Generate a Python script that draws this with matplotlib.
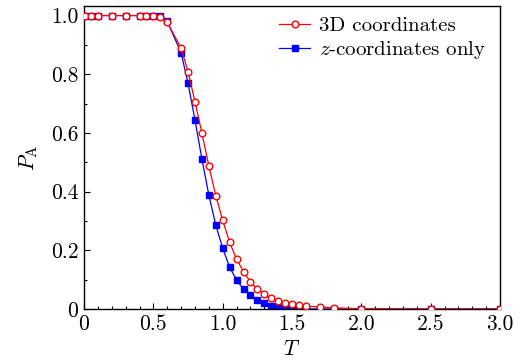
import matplotlib
matplotlib.use("Agg")
import matplotlib.pyplot as plt
from matplotlib.ticker import MultipleLocator, FuncFormatter

plt.rcParams['font.family'] = 'cmr10'
plt.rcParams['mathtext.fontset'] = 'cm'
plt.rcParams['axes.formatter.use_mathtext'] = True
plt.rcParams['font.size'] = 15.5

# temperature points
T = [0.01, 0.05, 0.1, 0.2, 0.3, 0.4, 0.45, 0.5, 0.55, 0.6, 0.7, 0.75, 0.8, 0.85,
     0.9, 0.95, 1.0, 1.05, 1.1, 1.15, 1.2, 1.25, 1.3, 1.35, 1.4, 1.45, 1.5, 1.55,
     1.6, 1.7, 1.8, 2.0, 2.5, 3.0]

# 3D coordinates
p_3d = [1.0, 1.0, 1.0, 1.0, 1.0, 1.0, 1.0, 1.0, 0.994, 0.977, 0.888, 0.809, 0.706, 0.599,
        0.488, 0.386, 0.302, 0.227, 0.170, 0.127, 0.093, 0.068, 0.051, 0.036, 0.027, 0.021, 0.016, 0.013,
        0.010, 0.007, 0.004, 0.001, 0.0, 0.0]

# z-coordinates only
p_z = [1.0, 1.0, 1.0, 1.0, 1.0, 1.0, 1.0, 1.0, 0.998, 0.980, 0.873, 0.769, 0.644, 0.511,
       0.388, 0.286, 0.207, 0.142, 0.099, 0.067, 0.047, 0.031, 0.019, 0.011, 0.007, 0.004, 0.002, 0.001,
       0.0005, 0.0, 0.0, 0.0, 0.0, 0.0]

fig = plt.figure(figsize=(5.22, 3.61), dpi=100)
ax = fig.add_axes([0.161, 0.144, 0.797, 0.839])

ax.plot(T, p_z, color='#0000ff', marker='s', markersize=4.5, linewidth=0.9,
        markeredgecolor='#0000ff', label='$z$-coordinates only', zorder=2)
ax.plot(T, p_3d, color='#ff0000', marker='o', markersize=4.8, linewidth=0.9,
        markerfacecolor='white', markeredgecolor='#ff0000', markeredgewidth=1.0,
        label='3D coordinates', zorder=3)

ax.set_xlim(0, 3.0)
ax.set_ylim(0, 1.032)
ax.xaxis.set_major_locator(MultipleLocator(0.5))
ax.xaxis.set_minor_locator(MultipleLocator(0.1))
ax.yaxis.set_major_locator(MultipleLocator(0.2))
ax.yaxis.set_minor_locator(MultipleLocator(0.1))
fmt = FuncFormatter(lambda v, pos: '0' if abs(v) < 1e-9 else '%.1f' % v)
ax.xaxis.set_major_formatter(fmt)
ax.yaxis.set_major_formatter(fmt)
ax.tick_params(which='both', direction='in', top=False, right=False, pad=4)
ax.tick_params(which='major', length=4, width=0.8)
ax.tick_params(which='minor', length=2.5, width=0.8)
for s in ax.spines.values():
    s.set_linewidth(1.0)

ax.set_xlabel('$T$', labelpad=4)
ax.set_ylabel(r'$P_{\mathrm{A}}$', labelpad=8)

handles, labels = ax.get_legend_handles_labels()
leg = ax.legend(handles[::-1], labels[::-1], loc='upper right',
                bbox_to_anchor=(0.98, 0.987), borderaxespad=0, frameon=False,
                fontsize=15, handlelength=1.5, handletextpad=0.4,
                labelspacing=0.2, borderpad=0.3)

fig.savefig('out.png', dpi=100)
